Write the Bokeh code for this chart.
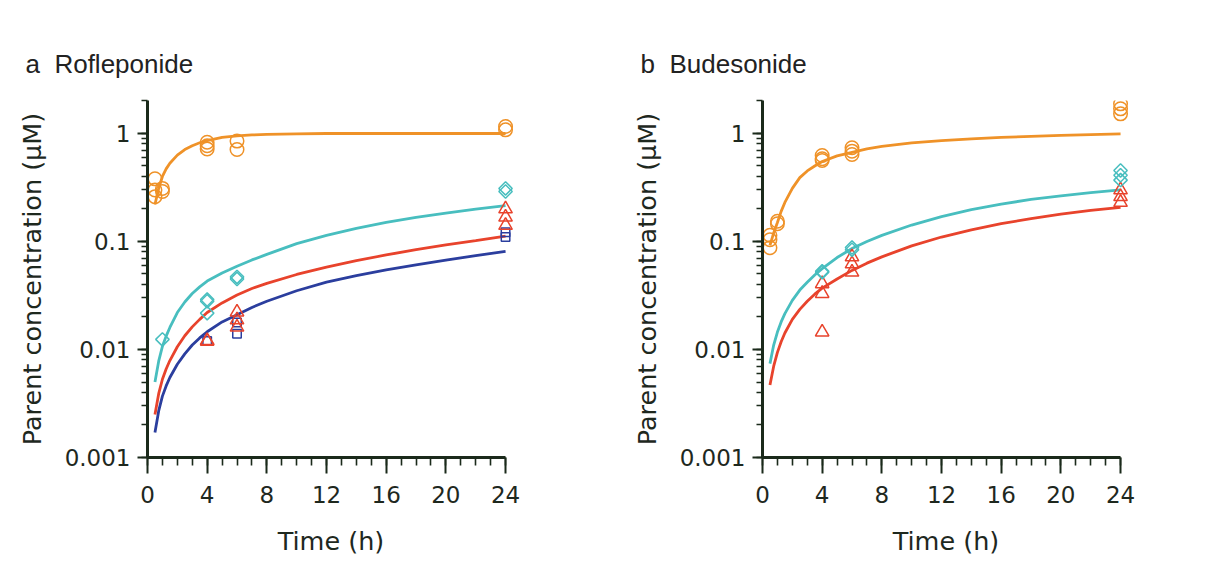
from bokeh.plotting import figure
from bokeh.layouts import row
from bokeh.models import Range1d, FixedTicker, Title, ColumnDataSource
from bokeh.embed import file_html
from bokeh.resources import INLINE
import math

# ---------------- data ----------------
x_ticks = [0, 4, 8, 12, 16, 20, 24]
x_tick_labels = ["0", "4", "8", "12", "16", "20", "24"]
y_ticks = [0.001, 0.01, 0.1, 1]
y_tick_labels = ["0.001", "0.01", "0.1", "1"]

t_fit = [0.5, 0.75, 1, 1.25, 1.5, 2, 2.5, 3, 3.5, 4, 5, 6, 7, 8, 10, 12, 14, 16, 18, 20, 22, 24]

# panel a: Rofleponide (model curves)
a_orange_fit = [0.22, 0.31, 0.40, 0.47, 0.53, 0.63, 0.71, 0.77, 0.82, 0.86, 0.92, 0.95, 0.97, 0.98,
                0.99, 1.0, 1.0, 1.0, 1.0, 1.0, 1.0, 1.0]
a_teal_fit = [0.005, 0.0078, 0.0107, 0.0133, 0.016, 0.022, 0.0275, 0.033, 0.038, 0.043, 0.051, 0.059,
              0.0675, 0.076, 0.0955, 0.114, 0.132, 0.15, 0.167, 0.183, 0.199, 0.215]
a_red_fit = [0.0025, 0.0039, 0.0053, 0.0066, 0.0079, 0.0106, 0.0134, 0.0162, 0.019, 0.022, 0.027, 0.032,
             0.0367, 0.041, 0.0495, 0.058, 0.0665, 0.075, 0.084, 0.093, 0.102, 0.112]
a_blue_fit = [0.0017, 0.0027, 0.0037, 0.0046, 0.0055, 0.0073, 0.0091, 0.011, 0.0128, 0.0146, 0.018, 0.021,
              0.0245, 0.028, 0.035, 0.042, 0.0482, 0.0545, 0.0608, 0.0672, 0.074, 0.081]

a_orange_t = [0.5, 0.5, 0.5, 1, 1, 4, 4, 4, 6, 6, 24, 24]
a_orange_c = [0.38, 0.30, 0.26, 0.31, 0.29, 0.83, 0.77, 0.72, 0.85, 0.71, 1.16, 1.08]
a_teal_t = [1, 4, 4, 4, 6, 6, 24, 24]
a_teal_c = [0.0124, 0.029, 0.028, 0.0217, 0.047, 0.045, 0.31, 0.29]
a_red_t = [4, 4, 6, 6, 6, 24, 24, 24]
a_red_c = [0.0121, 0.0119, 0.0222, 0.0188, 0.0161, 0.20, 0.168, 0.141]
a_blue_t = [4, 6, 6, 24, 24]
a_blue_c = [0.012, 0.0178, 0.014, 0.122, 0.110]

# panel b: Budesonide
b_orange_fit = [0.092, 0.12, 0.15, 0.19, 0.23, 0.31, 0.39, 0.45, 0.50, 0.55, 0.62, 0.67, 0.72, 0.76,
                0.82, 0.86, 0.89, 0.92, 0.94, 0.96, 0.975, 0.99]
b_teal_fit = [0.0074, 0.011, 0.0145, 0.018, 0.0215, 0.0285, 0.0355, 0.042, 0.049, 0.056, 0.071, 0.086,
              0.10, 0.114, 0.142, 0.17, 0.197, 0.222, 0.245, 0.265, 0.284, 0.30]
b_red_fit = [0.0047, 0.007, 0.0094, 0.0118, 0.0142, 0.019, 0.0235, 0.028, 0.0325, 0.037, 0.045, 0.054,
             0.063, 0.072, 0.091, 0.11, 0.128, 0.146, 0.163, 0.179, 0.194, 0.207]

b_orange_t = [0.5, 0.5, 0.5, 1, 1, 4, 4, 4, 6, 6, 6, 24, 24, 24]
b_orange_c = [0.114, 0.104, 0.0875, 0.154, 0.146, 0.626, 0.583, 0.562, 0.737, 0.686, 0.639, 1.88, 1.69, 1.52]
b_teal_t = [4, 4, 6, 6, 24, 24, 24]
b_teal_c = [0.053, 0.052, 0.088, 0.084, 0.455, 0.41, 0.37]
b_red_t = [4, 4, 4, 6, 6, 6, 24, 24, 24]
b_red_c = [0.0406, 0.033, 0.0145, 0.072, 0.062, 0.052, 0.30, 0.26, 0.23]

# ---------------- style ----------------
ORANGE = "#EF9228"
TEAL = "#48BEBF"
RED = "#E8432C"
BLUE = "#2B3E9E"
AXIS = "#1B2A1B"
TXT = "#1E281E"
TICK_FONT = "DejaVu Sans"

y_minor = [k * 10 ** e for e in range(-3, 1) for k in range(1, 10)] + [2]


def make_panel(title, border_left, border_right, title_offset):
    p = figure(
        x_range=Range1d(0, 24.6), y_range=Range1d(0.001, 2.02),
        y_axis_type="log", frame_width=367, frame_height=357,
        min_border_left=border_left, min_border_right=border_right,
        min_border_top=100, min_border_bottom=100,
        output_backend="svg", toolbar_location=None,
        background_fill_color="white", border_fill_color="white",
        outline_line_color=None,
    )
    p.grid.visible = False
    p.title = Title(text=title, align="left", offset=title_offset, standoff=43,
                    text_font="Liberation Sans", text_font_size="26px",
                    text_font_style="normal", text_color="#222222")

    xa = p.xaxis[0]
    xa.ticker = FixedTicker(ticks=x_ticks, minor_ticks=list(range(25)))
    xa.major_label_overrides = {t: l for t, l in zip(x_ticks, x_tick_labels)}
    xa.bounds = (0, 24)
    xa.axis_label = "Time (h)"
    xa.major_tick_out = 16
    xa.major_tick_in = 0
    xa.minor_tick_out = 8
    xa.minor_tick_in = 0
    xa.major_label_standoff = 12
    xa.axis_label_standoff = 20

    ya = p.yaxis[0]
    ya.ticker = FixedTicker(ticks=y_ticks, minor_ticks=y_minor)
    ya.major_label_overrides = {t: l for t, l in zip(y_ticks, y_tick_labels)}
    ya.axis_label = "Parent concentration (µM)"
    ya.major_tick_out = 10
    ya.major_tick_in = 0
    ya.minor_tick_out = 6
    ya.minor_tick_in = 0
    ya.major_label_standoff = 7
    ya.axis_label_standoff = 15

    for ax in (xa, ya):
        ax.axis_line_width = 3
        ax.axis_line_color = AXIS
        ax.major_tick_line_width = 2
        ax.major_tick_line_color = AXIS
        ax.minor_tick_line_width = 1.6
        ax.minor_tick_line_color = AXIS
        ax.major_label_text_font = TICK_FONT
        ax.major_label_text_font_size = "23px"
        ax.major_label_text_color = TXT
        ax.axis_label_text_font = TICK_FONT
        ax.axis_label_text_font_size = "25.5px"
        ax.axis_label_text_font_style = "normal"
        ax.axis_label_text_color = TXT
    return p


def add_fit(p, ys, color):
    p.line(t_fit, ys, line_color=color, line_width=2.8)


def add_pts(p, ts, cs, color, marker):
    src = ColumnDataSource(dict(t=ts, c=cs))
    kw = dict(fill_color=None, line_color=color, line_width=1.5)
    if marker == "circle":
        p.scatter("t", "c", source=src, marker="circle", size=13.5, **kw)
    elif marker == "diamond":
        p.scatter("t", "c", source=src, marker="square", size=9.5, angle=math.pi / 4, **kw)
    elif marker == "triangle":
        p.scatter("t", "c", source=src, marker="triangle", size=13.5, **kw)
    else:
        p.scatter("t", "c", source=src, marker="square", size=8.5, **kw)


pa = make_panel("a\u00a0\u00a0Rofleponide", 147, 106, -122)
add_fit(pa, a_blue_fit, BLUE)
add_fit(pa, a_red_fit, RED)
add_fit(pa, a_teal_fit, TEAL)
add_fit(pa, a_orange_fit, ORANGE)
add_pts(pa, a_blue_t, a_blue_c, BLUE, "square")
add_pts(pa, a_red_t, a_red_c, RED, "triangle")
add_pts(pa, a_teal_t, a_teal_c, TEAL, "diamond")
add_pts(pa, a_orange_t, a_orange_c, ORANGE, "circle")

pb = make_panel("b\u00a0\u00a0Budesonide", 142, 76, -122)
add_fit(pb, b_red_fit, RED)
add_fit(pb, b_teal_fit, TEAL)
add_fit(pb, b_orange_fit, ORANGE)
add_pts(pb, b_red_t, b_red_c, RED, "triangle")
add_pts(pb, b_teal_t, b_teal_c, TEAL, "diamond")
add_pts(pb, b_orange_t, b_orange_c, ORANGE, "circle")

layout = row(pa, pb)
open("out.html", "w").write(file_html(layout, INLINE))
